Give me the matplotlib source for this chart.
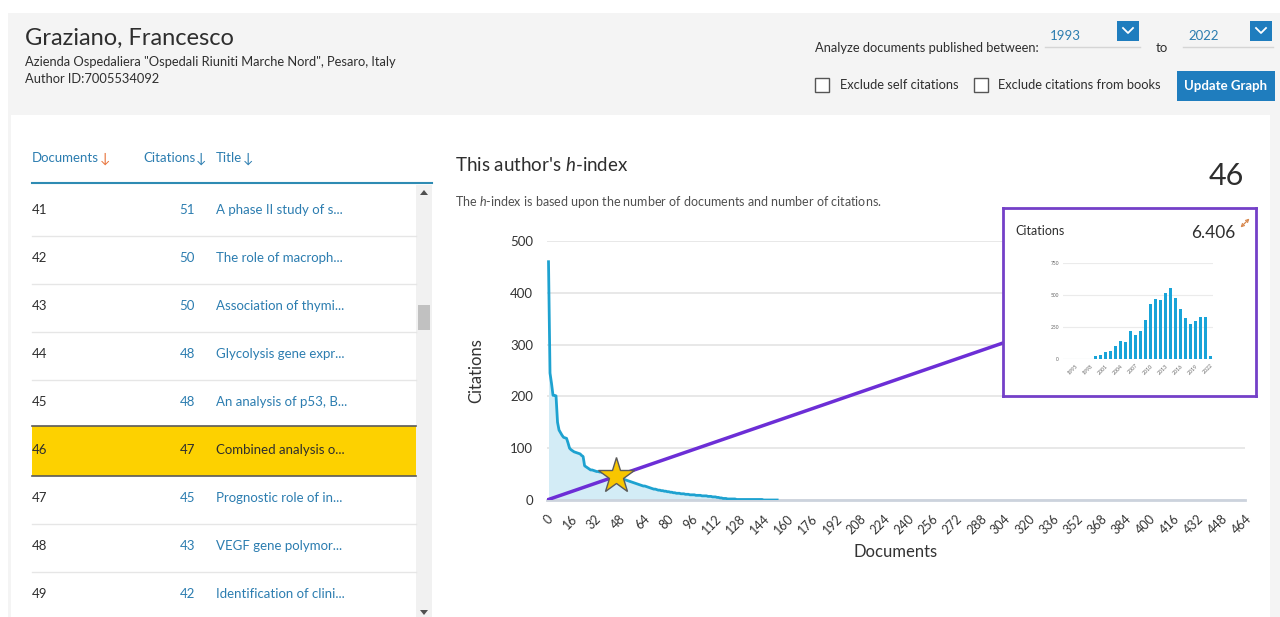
import matplotlib
matplotlib.use("Agg")
import matplotlib.pyplot as plt
from matplotlib.patches import Rectangle, Polygon
import numpy as np

FONT = ['Lato', 'DejaVu Sans']
plt.rcParams['font.family'] = FONT
plt.rcParams['mathtext.fontset'] = 'custom'
plt.rcParams['mathtext.rm'] = 'Lato'
plt.rcParams['mathtext.it'] = 'Lato:italic'

# ---- data ----
# citations per document, sorted (h-index curve)
doc_citations = [
    460, 245, 225, 202, 202, 201, 150, 135, 130, 125,
    121, 120, 119, 110, 100, 97, 95, 93, 92, 91,
    90, 89, 86, 84, 66, 64, 62, 60, 58, 58,
    57, 56, 55, 55, 54, 54, 53, 53, 52, 52,
    51, 50, 50, 48, 48, 47, 45, 43, 42, 41,
    40, 39, 38, 37, 36, 35, 34, 33, 32, 31,
    30, 29, 28, 27, 27, 26, 25, 24, 23, 22,
    21, 21, 20, 19, 19, 18, 18, 17, 17, 16,
    16, 15, 15, 14, 14, 13, 13, 13, 12, 12,
    12, 11, 11, 11, 10, 10, 10, 10, 9, 9,
    9, 9, 8, 8, 8, 8, 7, 7, 7, 6,
    6, 6, 5, 5, 4, 4, 3, 3, 3, 2,
    2, 2, 2, 2, 2, 1, 1, 1, 1, 1,
    1, 1, 1, 1, 1, 1, 1, 1, 1, 1,
    1, 1, 1, 0, 0, 0, 0, 0, 0, 0,
    0, 0, 0,
]
h_index = 46
x_ticks = list(range(0, 465, 16))
y_ticks = [0, 100, 200, 300, 400, 500]

# citations per year (inset)
years = list(range(1993, 2023))
year_citations = [0, 0, 0, 3, 0, 3, 21, 31, 57, 65,
                  99, 143, 130, 216, 185, 216, 307, 432, 466, 461,
                  518, 552, 477, 391, 320, 273, 299, 331, 326, 21]
year_labels = ['1995', '1998', '2001', '2004', '2007', '2010', '2013', '2016', '2019', '2022']
total_citations = '6.406'

# table rows
row_docs = [41, 42, 43, 44, 45, 46, 47, 48, 49]
row_cites = [51, 50, 50, 48, 48, 47, 45, 43, 42]
row_titles = ['A phase II study of s...', 'The role of macroph...', 'Association of thymi...',
              'Glycolysis gene expr...', 'An analysis of p53, B...', 'Combined analysis o...',
              'Prognostic role of in...', 'VEGF gene polymor...', 'Identification of clini...']

W, H = 1280, 617
LINK = '#2C7DB0'
DARK = '#2E2E2E'
BLUE_BTN = '#1F7DBE'
PURPLE = '#6C2ED6'

fig = plt.figure(figsize=(W / 100, H / 100), dpi=100)
fig.patch.set_facecolor('white')

bg = fig.add_axes([0, 0, 1, 1], zorder=0)
bg.set_xlim(0, W)
bg.set_ylim(H, 0)
bg.axis('off')


def txt(x, y, s, size=9.5, color=DARK, **kw):
    kw.setdefault('va', 'center')
    bg.text(x, y, s, fontsize=size, color=color, **kw)


# page background
bg.add_patch(Rectangle((8, 13), W - 8, H - 13, color='#F4F4F4', lw=0))
bg.add_patch(Rectangle((11, 115), 1259, H - 115, color='white', lw=0))

# header left
txt(25, 38, 'Graziano, Francesco', size=17)
txt(25, 62, 'Azienda Ospedaliera "Ospedali Riuniti Marche Nord", Pesaro, Italy', size=9.3)
txt(25, 79, 'Author ID:7005534092', size=9.3)

# header right
txt(815, 48, 'Analyze documents published between:', size=9.3)
for x0, x1, yr in [(1045, 1140, '1993'), (1183, 1273, '2022')]:
    txt(x0 + 5, 36, yr, size=9.5, color=LINK)
    bg.plot([x0, x1], [47, 47], color='#D5D5D5', lw=1)
    bg.add_patch(Rectangle((x1 - 23, 21), 22, 20, color=BLUE_BTN, lw=0))
    cx = x1 - 12
    bg.plot([cx - 5, cx, cx + 5], [28, 33, 28], color='white', lw=1.3)
txt(1156, 48, 'to', size=9.5)
bg.add_patch(Rectangle((815, 78), 14, 14, facecolor='white', edgecolor='#555555', lw=1))
txt(840, 85, 'Exclude self citations', size=9.3)
bg.add_patch(Rectangle((974, 78), 14, 14, facecolor='white', edgecolor='#555555', lw=1))
txt(998, 85, 'Exclude citations from books', size=9.3)
bg.add_patch(Rectangle((1177, 71), 98, 30, color=BLUE_BTN, lw=0))
txt(1226, 86, 'Update Graph', size=9.5, color='white', ha='center', fontweight='bold')

# table header
txt(32, 158, 'Documents', size=9.5, color=LINK)
txt(100, 159, '↓', size=10, color='#E8733A')
txt(143, 158, 'Citations', size=9.5, color=LINK)
txt(196, 159, '↓', size=10, color=LINK)
txt(216, 158, 'Title', size=9.5, color=LINK)
txt(243, 159, '↓', size=10, color=LINK)
bg.plot([32, 432], [183, 183], color='#2E8BB3', lw=1.5)

# table rows
for i, (d, c, t) in enumerate(zip(row_docs, row_cites, row_titles)):
    yc = 210 + 48 * i
    if d == h_index:
        bg.add_patch(Rectangle((32, yc - 24), 384, 50, color='#FDD100', lw=0))
        bg.plot([32, 416], [yc - 24, yc - 24], color='#5A5A5A', lw=1.2)
        bg.plot([32, 416], [yc + 26, yc + 26], color='#5A5A5A', lw=1.2)
        col = DARK
    else:
        col = LINK
        if i < len(row_docs) - 1 and row_docs[i + 1] != h_index:
            bg.plot([32, 416], [yc + 26, yc + 26], color='#E6E6E6', lw=1)
    txt(32, yc, str(d), size=9.5, color=DARK)
    txt(195, yc, str(c), size=9.5, color=col, ha='right')
    txt(216, yc, t, size=9.5, color=col)

# scrollbar
bg.add_patch(Rectangle((416, 185), 16, H - 185, color='#F1F1F1', lw=0))
bg.add_patch(Rectangle((418, 305), 12, 25, color='#C1C1C1', lw=0))
bg.add_patch(Polygon([(420, 195), (428, 195), (424, 190)], color='#505050', lw=0))
bg.add_patch(Polygon([(420, 610), (428, 610), (424, 615)], color='#505050', lw=0))

# chart header
txt(455, 165, "This author's $h$-index", size=13.5)
txt(1244, 176, str(h_index), size=22, ha='right')
txt(455, 202, 'The $h$-index is based upon the number of documents and number of citations.',
    size=9, color='#505050')

# ---- main h-index chart ----
ax = fig.add_axes([547 / W, 1 - 500 / H, (1245 - 547) / W, (500 - 241) / H], zorder=2)
ax.patch.set_alpha(0)
docs = np.arange(1, len(doc_citations) + 1)
ax.fill_between(docs, doc_citations, 0, color='#D3ECF6', lw=0, zorder=2)
ax.plot(docs, doc_citations, color='#1EA2D0', lw=2, zorder=3, solid_joinstyle='round')
ax.plot([0, x_ticks[-1]], [0, x_ticks[-1]], color=PURPLE, lw=2.5, zorder=4)
ax.plot([h_index], [h_index], marker='*', ms=27, mfc='#F8C600', mec='#5A5A5A', mew=1, zorder=5)
ax.set_xlim(0, 464)
ax.set_ylim(0, 500)
ax.set_xticks(x_ticks)
ax.set_xticklabels([str(v) for v in x_ticks], rotation=45, ha='right', rotation_mode='anchor',
                   fontsize=9, color='#333333')
ax.set_yticks(y_ticks)
ax.set_yticklabels([str(v) for v in y_ticks], fontsize=9.5, color='#333333')
ax.tick_params(axis='both', length=0)
ax.tick_params(axis='x', pad=9)
ax.tick_params(axis='y', pad=10)
ax.yaxis.grid(True, color='#E6E6E6', lw=1.3, zorder=0)
ax.set_axisbelow(True)
for s in ['top', 'right', 'left']:
    ax.spines[s].set_visible(False)
ax.spines['bottom'].set_color('#CCD3DD')
ax.spines['bottom'].set_linewidth(2)
ax.set_xlabel('Documents', fontsize=12, color='#333333')
ax.set_ylabel('Citations', fontsize=12, color='#333333')
ax.xaxis.set_label_coords(0.5, -0.17)
ax.yaxis.set_label_coords(-0.09, 0.5)

# ---- inset citations box ----
box = fig.add_axes([1003 / W, 1 - 396 / H, (1256 - 1003) / W, (396 - 208) / H], zorder=5)
box.set_xlim(1003, 1256)
box.set_ylim(396, 208)
box.set_xticks([])
box.set_yticks([])
box.set_facecolor('white')
for s in box.spines.values():
    s.set_color('#7440C8')
    s.set_linewidth(2)
box.text(1015, 231, 'Citations', fontsize=9, color=DARK, va='center')
box.text(1235, 233, total_citations, fontsize=12.5, color=DARK, va='center', ha='right')
# expand icon (double diagonal arrow)
box.annotate('', xy=(1249.5, 218.5), xytext=(1240.5, 227.5),
             arrowprops=dict(arrowstyle='<->', color='#D88A50', lw=0.9,
                             mutation_scale=5, shrinkA=0, shrinkB=0))

mini = fig.add_axes([1063 / W, 1 - 359 / H, 150 / W, 96 / H], zorder=6)
mini.patch.set_alpha(0)
pos = np.arange(len(years))
mini.bar(pos, year_citations, width=0.55, color='#19A4D8', zorder=3)
mini.set_xlim(-0.5, len(years) - 0.5)
mini.set_ylim(0, 750)
mini.set_yticks([0, 250, 500, 750])
mini.set_yticklabels(['0', '250', '500', '750'], fontsize=3.5, color='#666666')
lab_pos = [years.index(int(y)) for y in year_labels]
mini.set_xticks(lab_pos)
mini.set_xticklabels(year_labels, rotation=45, ha='right', rotation_mode='anchor',
                     fontsize=3.8, color='#666666')
mini.tick_params(length=0, pad=3)
mini.yaxis.grid(True, color='#EBEBEB', lw=0.8, zorder=0)
for s in mini.spines.values():
    s.set_visible(False)
mini.axhline(0, color='#D8DDE5', lw=0.8, zorder=1)

fig.savefig('out.png', dpi=100)
